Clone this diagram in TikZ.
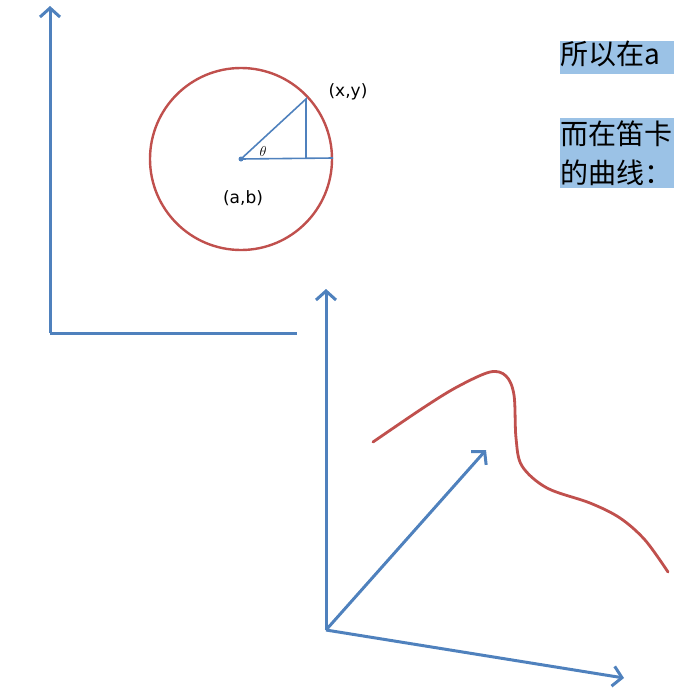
\documentclass[tikz,border=0pt]{standalone}
\usepackage{fontspec}
\setsansfont{DejaVu Sans}
\newfontfamily\cjk{Noto Sans CJK SC}
\usetikzlibrary{arrows.meta}
\definecolor{axisblue}{RGB}{79,129,189}
\definecolor{curvered}{RGB}{192,80,77}
\definecolor{hlblue}{RGB}{155,194,230}
\begin{document}
\begin{tikzpicture}[x=1pt, y=-1pt,
	axis/.style={draw=axisblue, line width=3pt},
	axisarrow/.style={axis, -{Straight Barb[length=9pt, width=20pt, line width=3pt]}},
	thinline/.style={draw=axisblue, line width=1.6pt},
	hltext/.style={anchor=base west, fill=hlblue, inner xsep=0pt, inner ysep=2pt, text width=130pt, align=left, font=\cjk\fontsize{28}{28}\selectfont},
	coordlabel/.style={font=\sffamily\fontsize{17}{17}\selectfont, inner sep=0pt}]
	\useasboundingbox (0,0) rectangle (674,688);
	\clip (0,0) rectangle (674,688);
	% upper axes
	\coordinate (o1) at (50,333);
	\coordinate (y1) at (50,6);
	\coordinate (x1) at (297,333);
	\draw [axisarrow] (o1) -- (y1);
	\draw [axis] (o1) -- (x1);
	% circle
	\node [circle, draw=curvered, line width=2.4pt, minimum size=182pt, inner sep=0pt] (circ) at (241,159) {};
	\fill [axisblue] (circ.center) circle (2.5pt);
	\coordinate (p) at (306,99);
	\coordinate (foot) at (306,158);
	\coordinate (edge) at (333,158);
	\draw [thinline] (circ.center) -- (p) -- (foot);
	\draw [thinline] (circ.center) -- (edge);
	\node [font=\fontsize{14}{14}\selectfont, inner sep=0pt] (theta) at (263,151) {$\theta$};
	\node [coordlabel] (xy) at (348,92) {(x,y)};
	\node [coordlabel] (ab) at (243,198) {(a,b)};
	% lower axes
	\coordinate (o2) at (326,630);
	\coordinate (y2) at (326,289);
	\coordinate (x2) at (624,678);
	\coordinate (z2) at (486,450);
	\draw [axisarrow] (o2) -- (y2);
	\draw [axisarrow] (o2) -- (x2);
	\draw [axisarrow] (o2) -- (z2);
	% curve
	\draw [curvered, line width=2.8pt, line cap=round] plot [smooth, tension=0.55] coordinates {(373,442) (423,408) (457,387) (490,372) (506,376) (514,395) (516,438) (522,466) (547,488) (590,503) (620,518) (645,540) (668,572)};
	% text
	\node [hltext, text height=21pt, text depth=8pt] (t1) at (560,64) {所以在a};
	\node [hltext, text height=24pt, text depth=5pt] (t2) at (560,144) {而在笛卡};
	\node [hltext, text height=31pt, text depth=3pt] (t3) at (560,183) {的曲线：};
\end{tikzpicture}
\end{document}
